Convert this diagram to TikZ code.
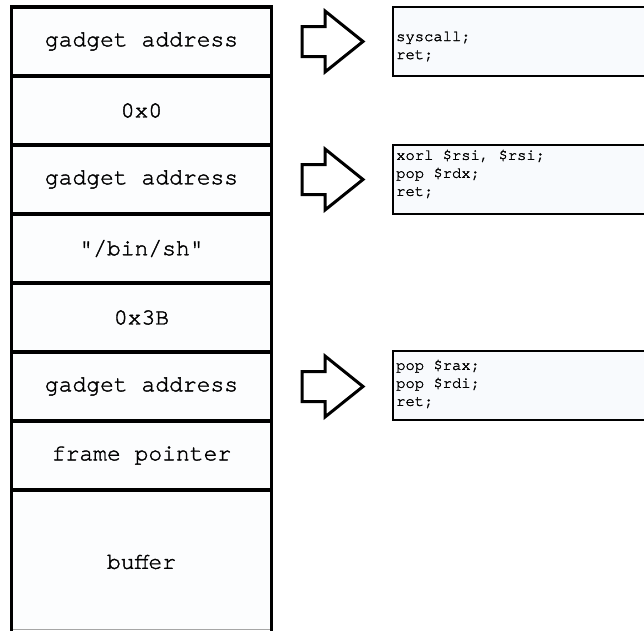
\documentclass[tikz,border=0pt]{standalone}
\usepackage{fontspec}
\setmonofont{texgyrecursor-regular.otf}[WordSpace={1,0,0}, FakeBold=1.6]
\begin{document}
\begin{tikzpicture}[x=1pt,y=-1pt,
  cell/.style={draw=black, line width=3.2pt, fill=cellfill, minimum width=260pt,
    minimum height=69pt, inner sep=0pt, outer sep=0pt,
    font=\ttfamily\fontsize{23}{27}\selectfont},
  codebox/.style={draw=black, line width=1.6pt, fill=codefill, anchor=west,
    minimum height=69pt, minimum width=290pt, inner sep=0pt, outer sep=0pt},
  codetext/.style={anchor=north west, align=left, inner sep=0pt,
    font=\ttfamily\fontsize{15.5}{18}\selectfont},
  blockarrow/.style={draw=black, line width=3pt, fill=white, line join=miter}]
\definecolor{cellfill}{HTML}{FCFDFE}
\definecolor{codefill}{HTML}{F8FAFD}
\useasboundingbox (0,0) rectangle (644,630);

% open-ended buffer area below the frame pointer
\fill[cellfill] (11.5,490) rectangle (271.5,629);
\draw[gray!70, line width=1pt] (13,629.5) -- (270,629.5);
\draw[line width=3.2pt] (11.5,490) -- (11.5,632);
\draw[line width=3.2pt] (271.5,490) -- (271.5,632);
\node[font=\ttfamily\fontsize{23}{27}\selectfont, inner sep=0pt] (buf) at (141.5,562) {buffer};

% stack frame, top to bottom
\node[cell] (s1) at (141.5,41.5)  {gadget address};
\node[cell] (s2) at (141.5,110.5) {0x0};
\node[cell] (s3) at (141.5,179.5) {gadget address};
\node[cell] (s4) at (141.5,248.5) {"/bin/sh"};
\node[cell] (s5) at (141.5,317.5) {0x3B};
\node[cell] (s6) at (141.5,386.5) {gadget address};
\node[cell] (s7) at (141.5,455.5) {frame pointer};

% gadget code boxes
\node[codebox] (c1) at (393,41.5)  {};
\node[codebox] (c2) at (393,179.5) {};
\node[codebox] (c3) at (393,385.5) {};
\node[codetext] (t1) at ([shift={(3,24.5)}]c1.north west) {syscall;\\ret;};
\node[codetext] (t2) at ([shift={(3,4.5)}]c2.north west) {xorl \$rsi, \$rsi;\\pop \$rdx;\\ret;};
\node[codetext] (t3) at ([shift={(3,8.5)}]c3.north west) {pop \$rax;\\pop \$rdi;\\ret;};

% block arrows from the gadget addresses
\foreach \n/\y in {1/41.5,2/179.5,3/386.5}{
  \coordinate (a\n) at (302,\y);
  \draw[blockarrow] (a\n) ++(0,-15) -- ++(23,0) -- ++(0,-15.5) -- ++(38,30.5)
     -- ++(-38,30.5) -- ++(0,-15.5) -- ++(-23,0) -- cycle;
}
\end{tikzpicture}
\end{document}
